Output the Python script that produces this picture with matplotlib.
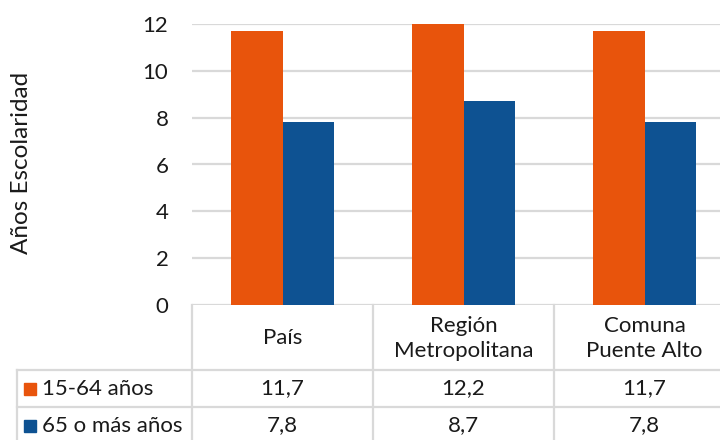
import matplotlib
matplotlib.use("Agg")
import matplotlib.pyplot as plt
import matplotlib.transforms as mtransforms
import numpy as np

categories = ["País", "Región\nMetropolitana", "Comuna\nPuente Alto"]
series_names = ["15-64 años", "65 o más años"]
values_1564 = [11.7, 12.2, 11.7]
values_65 = [7.8, 8.7, 7.8]
yticks = [0, 2, 4, 6, 8, 10, 12]

ORANGE = "#E8540C"
BLUE = "#0E5292"
GRID = "#D9D9D9"
TXT = "#1a1a1a"
FS = 16

plt.rcParams["font.family"] = ["Lato", "DejaVu Sans"]

W, H = 720, 440
fig = plt.figure(figsize=(W / 100, H / 100), dpi=100)

# plot area in pixel coords (extends a bit past the right edge, as in the source)
left_px, right_px, top_px, bot_px = 192, 735, 24, 305
ax = fig.add_axes([left_px / W, 1 - bot_px / H,
                   (right_px - left_px) / W, (bot_px - top_px) / H])

x = np.arange(len(categories))
bw = 0.285
ax.bar(x - bw / 2, values_1564, bw, color=ORANGE, zorder=3)
ax.bar(x + bw / 2, values_65, bw, color=BLUE, zorder=3)

ax.set_xlim(-0.5, len(categories) - 0.5)
ax.set_ylim(0, 12)
ax.set_yticks(yticks)
ax.set_yticklabels([str(t) for t in yticks], fontsize=FS, color=TXT)
ax.tick_params(axis="y", length=0, pad=17)
ax.set_xticks([])
ax.grid(axis="y", color=GRID, linewidth=1.6, zorder=0)
for s in ax.spines.values():
    s.set_visible(False)

fig.text(22 / W, 1 - 163 / H, "Años Escolaridad", rotation=90,
         ha="center", va="center", fontsize=17.5, color=TXT)

# data table below the plot
tr = mtransforms.blended_transform_factory(ax.transData, fig.transFigure)
figy = lambda py: 1 - py / H
row_tops = [305, 370, 407, 444]
lkw = dict(color=GRID, linewidth=1.6, clip_on=False)

bounds = np.arange(len(categories) + 1) - 0.5
for b in bounds:
    ax.plot([b, b], [figy(row_tops[0]), figy(row_tops[-1])], transform=tr, **lkw)
for py in row_tops[1:3]:
    fig.add_artist(plt.Line2D([17 / W, 1.0], [figy(py), figy(py)], **lkw))
fig.add_artist(plt.Line2D([17 / W, 17 / W], [figy(row_tops[1]), figy(row_tops[-1])], **lkw))

hdr_y = figy((row_tops[0] + row_tops[1]) / 2 + 1)
for i, c in enumerate(categories):
    ax.text(i, hdr_y, c, transform=tr, ha="center", va="center",
            fontsize=FS, color=TXT, linespacing=1.35)

for r, (name, vals, col) in enumerate([(series_names[0], values_1564, ORANGE),
                                        (series_names[1], values_65, BLUE)]):
    yc = figy((row_tops[r + 1] + row_tops[r + 2]) / 2)
    fig.patches.append(plt.Rectangle((24 / W, yc - 6 / H), 12 / W, 12 / H,
                                     transform=fig.transFigure, color=col))
    fig.text(42 / W, yc, name, ha="left", va="center", fontsize=FS, color=TXT)
    for i, v in enumerate(vals):
        ax.text(i, yc, f"{v:.1f}".replace(".", ","), transform=tr,
                ha="center", va="center", fontsize=FS, color=TXT)

fig.savefig("out.png", dpi=100)
